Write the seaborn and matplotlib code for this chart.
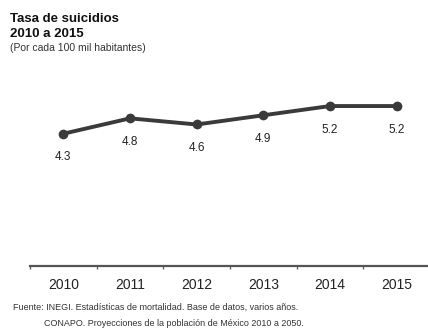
import matplotlib
matplotlib.use("Agg")
import matplotlib.pyplot as plt
import seaborn as sns
import pandas as pd

# datos
anios = ["2010", "2011", "2012", "2013", "2014", "2015"]
tasa = [4.3, 4.8, 4.6, 4.9, 5.2, 5.2]
etiquetas = ["4.3", "4.8", "4.6", "4.9", "5.2", "5.2"]

titulo = "Tasa de suicidios\n2010 a 2015"
subtitulo = "(Por cada 100 mil habitantes)"
fuente1 = "Fuente: INEGI. Estadísticas de mortalidad. Base de datos, varios años."
fuente2 = "CONAPO. Proyecciones de la población de México 2010 a 2050."

sns.set_style("white")
plt.rcParams["font.family"] = ["Liberation Sans Narrow", "Liberation Sans", "DejaVu Sans"]

df = pd.DataFrame({"anio": anios, "tasa": tasa})

fig = plt.figure(figsize=(4.28, 3.32), dpi=100)
ax = fig.add_axes([0.0701, 0.199, 0.9346, 0.602])

sns.lineplot(data=df, x="anio", y="tasa", color="#3a3a3a", linewidth=2.8,
             marker="o", markersize=7, markeredgewidth=0, ax=ax)

for i, (v, t) in enumerate(zip(tasa, etiquetas)):
    ax.annotate(t, (i, v), xytext=(0, -17), textcoords="offset points",
                ha="center", va="center", fontsize=8.5, color="#222222")

ax.set_xlim(-0.5, 5.5)
ax.set_ylim(0, 6.5)
ax.set_yticks([])
ax.set_xticks([x - 0.5 for x in range(6)], minor=False)
ax.set_xticklabels([])
ax.set_xticks(range(6), minor=True)
ax.set_xticklabels(anios, minor=True, fontsize=10, color="#222222")
ax.tick_params(axis="x", which="major", bottom=True, length=2.5, width=1,
               color="#666666", direction="out")
ax.tick_params(axis="x", which="minor", bottom=True, length=0, pad=9)
ax.set_xlabel("")
ax.set_ylabel("")

for s in ["top", "right", "left"]:
    ax.spines[s].set_visible(False)
ax.spines["bottom"].set_color("#555555")
ax.spines["bottom"].set_linewidth(1.6)

fig.text(0.023, 0.962, titulo, ha="left", va="top", fontsize=9.5,
         fontweight="bold", color="#111111", linespacing=1.35)
fig.text(0.023, 0.855, subtitulo, ha="left", va="center", fontsize=7.5, color="#333333")
fig.text(0.03, 0.075, fuente1, ha="left", va="center", fontsize=6.5, color="#333333")
fig.text(0.103, 0.025, fuente2, ha="left", va="center", fontsize=6.5, color="#333333")

fig.savefig("out.png", dpi=100)
